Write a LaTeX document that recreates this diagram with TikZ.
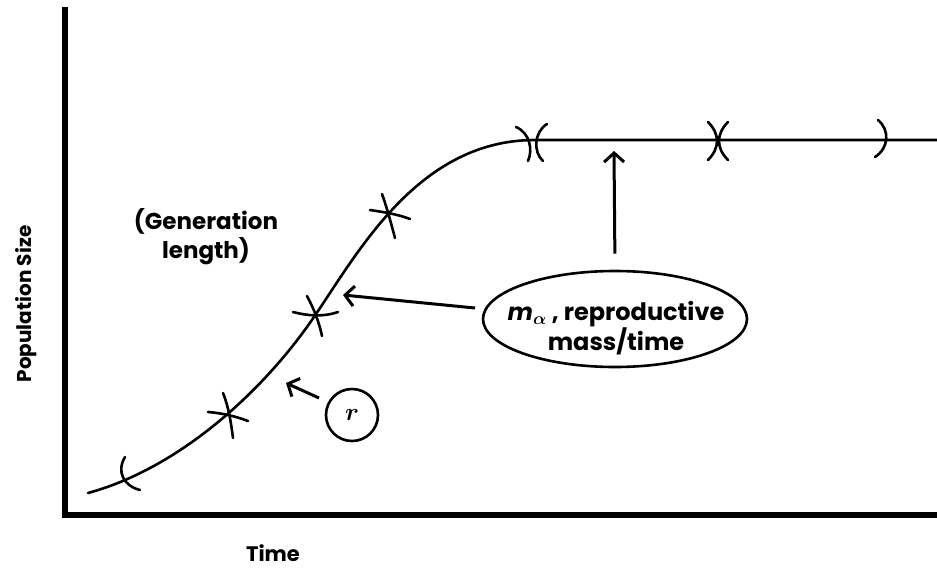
\documentclass[tikz,border=0pt]{standalone}
\usepackage{amsmath}
\usepackage{fontspec}
\setmainfont{Poppins}
\usetikzlibrary{arrows.meta,shapes.geometric}
\tikzset{
  axis/.style={line width=5.5pt, line join=miter},
  curve/.style={line width=2.6pt, line cap=round},
  mk/.style={line width=2.6pt, line cap=round},
  arr/.style={line width=3pt, -{Straight Barb[length=9pt,width=20pt,line width=3pt]}},
  lbl/.style={font=\fontsize{23}{29}\selectfont\bfseries, align=center, inner sep=0pt},
}
\begin{document}
\begin{tikzpicture}[x=1pt,y=-1pt]
\useasboundingbox (0,0) rectangle (937,571);
% axes
\draw[axis] (65,7) -- (65,515) -- (937,515);
% named points
\coordinate (p0) at (88,493);
\coordinate (p3) at (316,314);
\coordinate (p5) at (535,140);
\coordinate (pend) at (937,140);
% curve
\draw[curve] (p0) .. controls (180,468) and (265,390) .. (p3)
  .. controls (360,249) and (420,140) .. (p5) -- (pend);
% marks
\draw[mk] (125,457) .. controls (116,472) and (124,486) .. (140,490);
\draw[mk] (223,393) .. controls (229,408) and (231,423) .. (233,438);
\draw[mk] (208,412) .. controls (221,413) and (235,416) .. (248,421);
\draw[mk] (307,296) .. controls (314,309) and (319,322) .. (322,336);
\draw[mk] (293,312) .. controls (308,316) and (324,317) .. (338,312);
\draw[mk] (382,194) .. controls (387,208) and (391,223) .. (395,238);
\draw[mk] (370,210) .. controls (383,212) and (397,214) .. (410,219);
\draw[mk] (516,127) .. controls (530,133) and (533,150) .. (528,161);
\draw[mk] (547,124) .. controls (534,132) and (533,152) .. (543,161);
\draw[mk] (708,122) .. controls (720,134) and (720,148) .. (708,160);
\draw[mk] (728,122) .. controls (716,134) and (716,148) .. (728,160);
\draw[mk] (878,120) .. controls (890,130) and (889,148) .. (875,157);
% labels
\node[lbl] (gen) at (206,237) {(Generation\\length)};
\node[lbl, font=\fontsize{20}{24}\selectfont\bfseries, rotate=90] (ylab) at (26,304) {Population Size};
\node[lbl, font=\fontsize{21}{24}\selectfont\bfseries] (xlab) at (273,553) {Time};
% ellipse
\node[ellipse, draw, line width=2.6pt, minimum width=264pt, minimum height=96pt, inner sep=0pt] (ma) at (615,319) {};
\node[lbl, font=\fontsize{24}{30}\selectfont\bfseries] (matext) at (616,328)
  {{\itshape m}$_{\boldsymbol{\alpha}}$ , reproductive\\mass/time};
% r circle
\node[circle, draw, line width=2.6pt, minimum size=52pt, inner sep=0pt, font=\fontsize{29}{29}\selectfont] (r) at (352,415) {$\boldsymbol{r}$};
% arrow ends
\coordinate (a1s) at (475,308);
\coordinate (a1e) at (343,295);
\coordinate (a2s) at (319,398);
\coordinate (a2e) at (286,383);
\coordinate (a3e) at (614,151);
\draw[arr] (a1s) -- (a1e);
\draw[arr] (a2s) -- (a2e);
\draw[arr, shorten <=16pt] (ma.north) -- (a3e);
\end{tikzpicture}
\end{document}
